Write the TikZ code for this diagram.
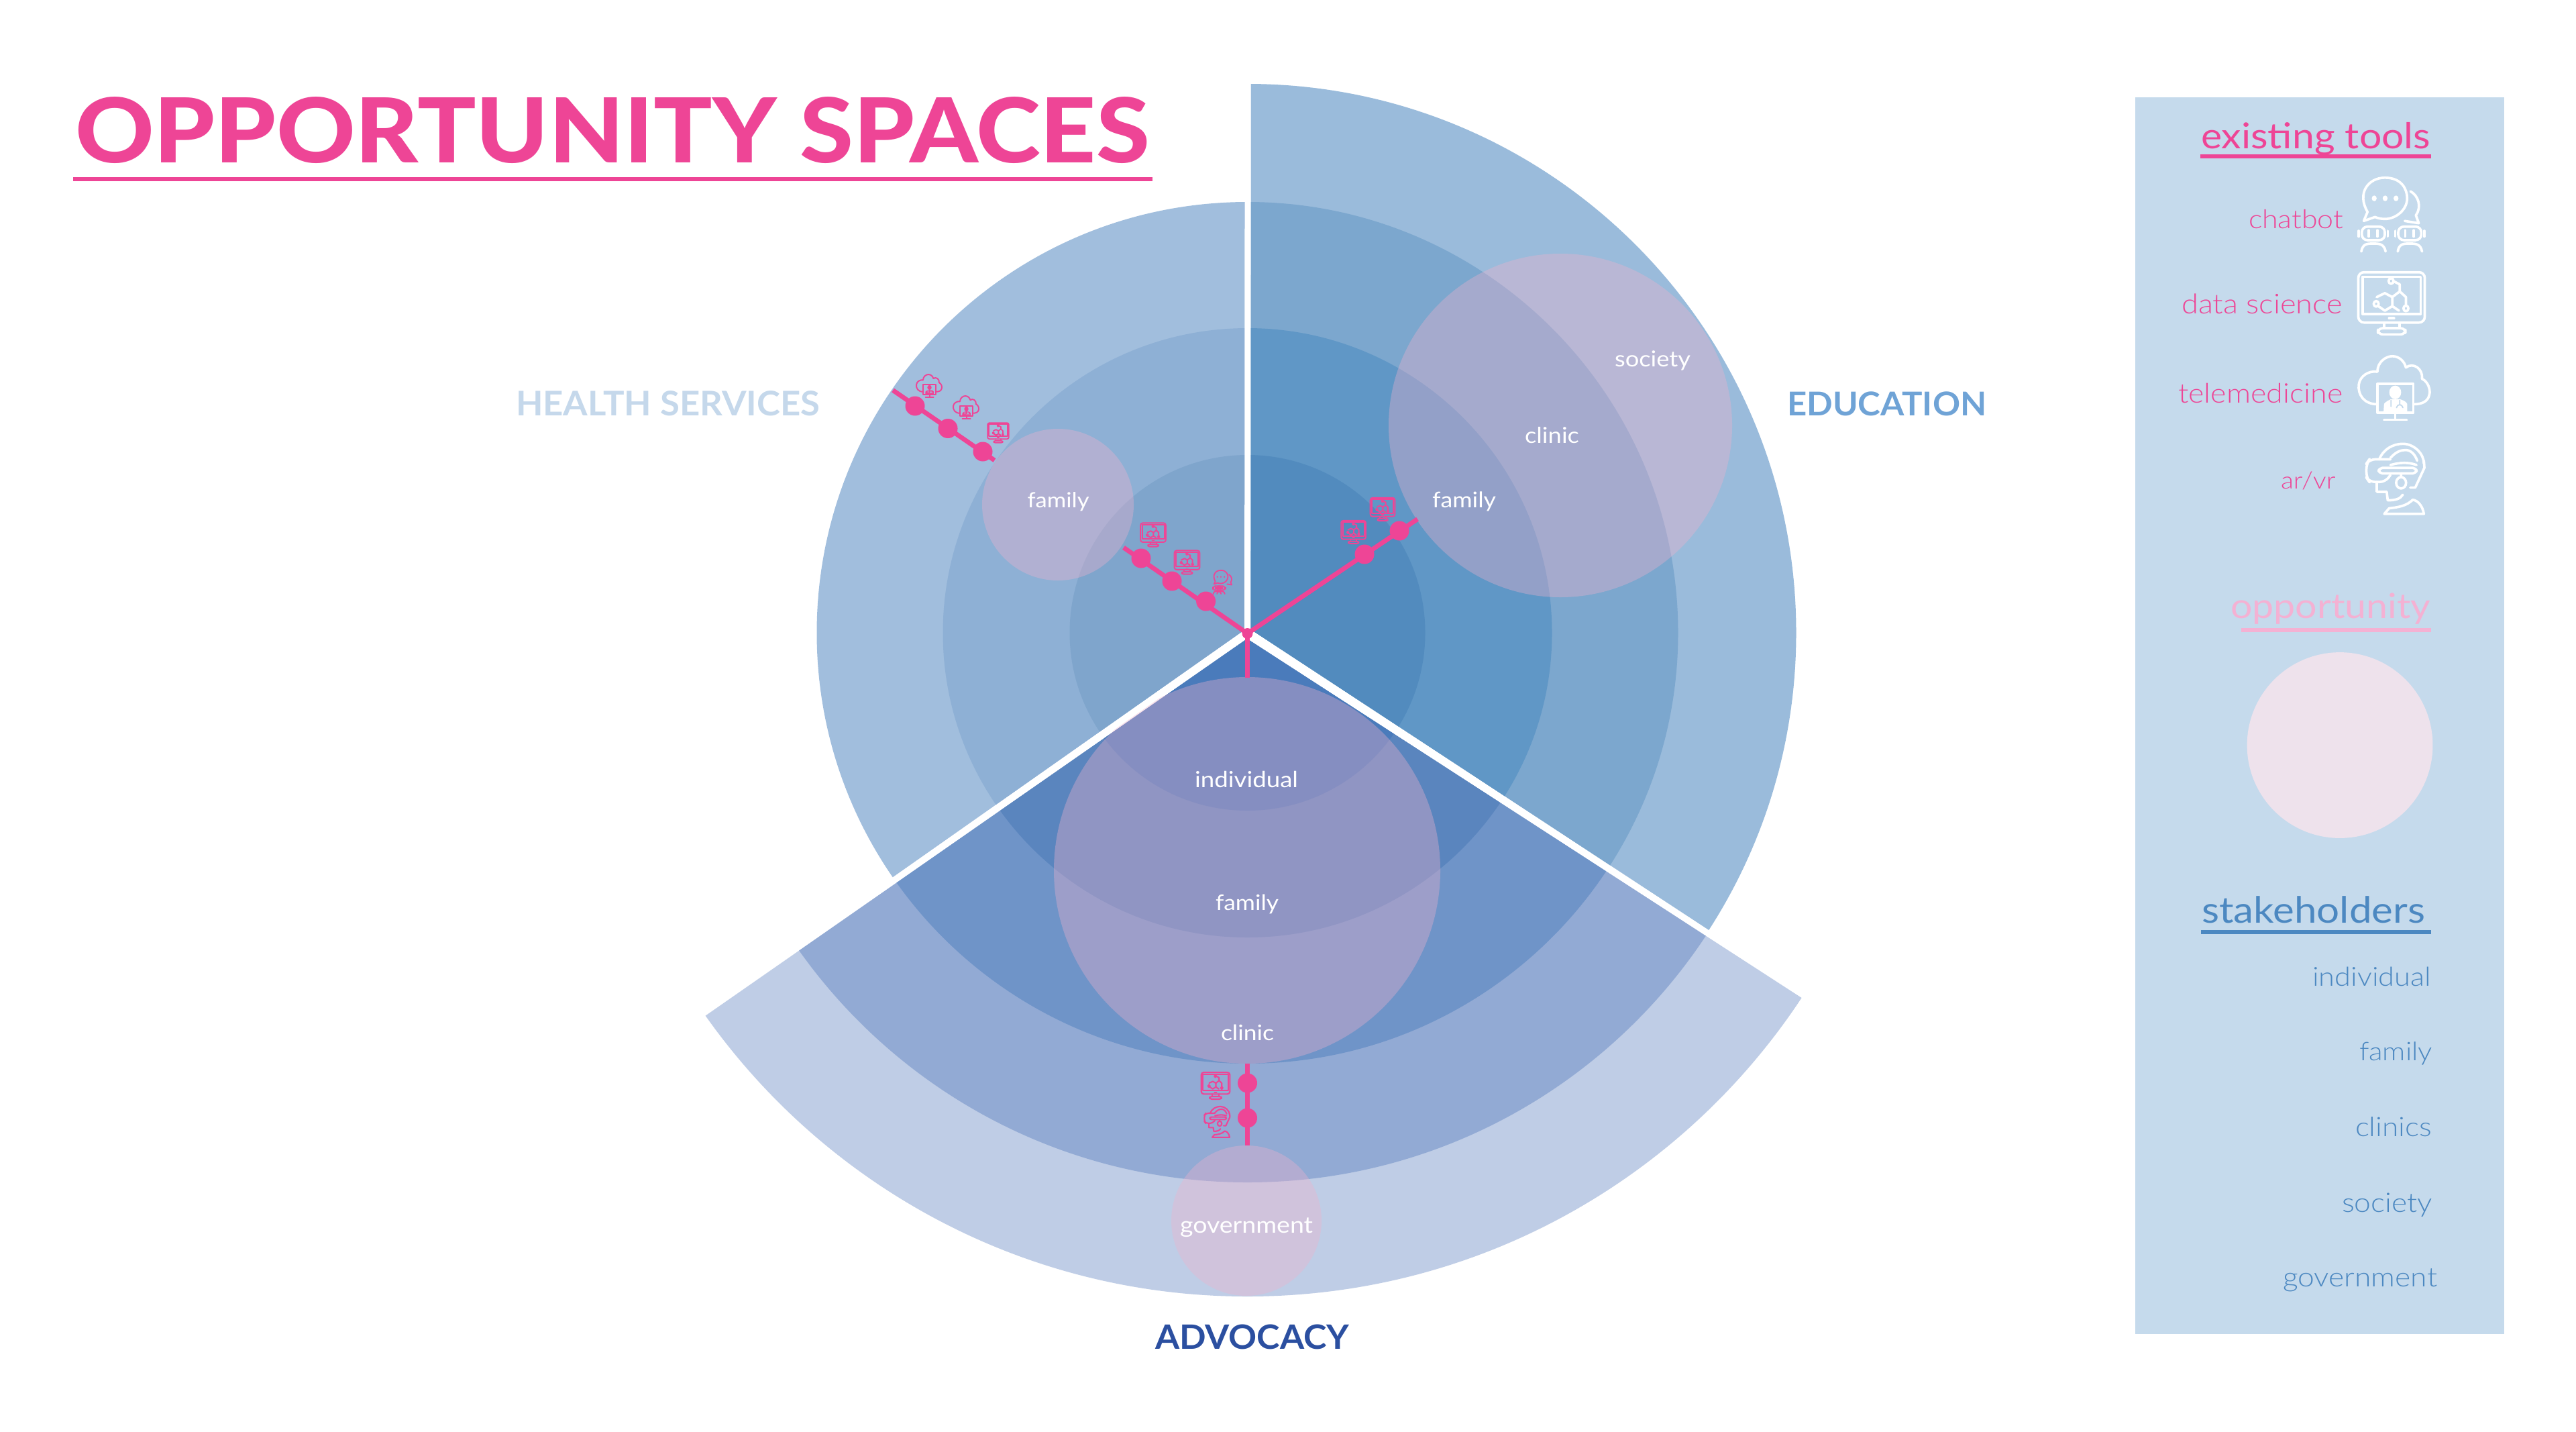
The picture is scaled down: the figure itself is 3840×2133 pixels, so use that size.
\documentclass[tikz,border=0pt]{standalone}
\usepackage{fontspec}
\usepackage{graphicx}
\setmainfont{Lato Light}
\newfontfamily\medf{Lato}
\newfontfamily\heavyf{Lato Heavy}
\newcommand{\fit}[2]{\resizebox{#1}{!}{\scalebox{1}[0.9]{#2}}}
\newcommand{\fitcaps}[2]{\resizebox{#1}{!}{\scalebox{1}[0.96]{\medf\bfseries #2}}}
\definecolor{hotpink}{HTML}{EE4596}
\definecolor{panel}{HTML}{C5DAEC}
\definecolor{hA}{HTML}{7FA5CC}\definecolor{hB}{HTML}{8EB0D5}\definecolor{hC}{HTML}{A1BEDD}
\definecolor{eA}{HTML}{528BBE}\definecolor{eB}{HTML}{6097C6}\definecolor{eC}{HTML}{7CA7CE}\definecolor{eD}{HTML}{9ABBDB}
\definecolor{aA}{HTML}{4A7BBB}\definecolor{aB}{HTML}{5A85BE}\definecolor{aC}{HTML}{6F94C8}\definecolor{aD}{HTML}{92AAD4}\definecolor{aE}{HTML}{BFCDE6}
\definecolor{opp}{RGB}{240,178,205}
\definecolor{legpink}{HTML}{F4B1D3}
\definecolor{legblue}{HTML}{4C88C1}
\definecolor{healthc}{HTML}{C5D8EB}
\definecolor{educ}{HTML}{6FA3D6}
\definecolor{advc}{HTML}{2B4FA0}
\definecolor{oppleg}{RGB}{238,226,236}
\tikzset{
  lbl/.style={inner sep=0pt,outer sep=0pt,anchor=base west},
  oppcircle/.style={fill=opp,fill opacity=0.36},
  divider/.style={draw=white,line width=2.5pt},
  spoke/.style={draw=hotpink,line width=1.95pt},
  dotnode/.style={circle,fill=hotpink,inner sep=0pt,minimum size=0.29cm},
  hubnode/.style={circle,fill=hotpink,inner sep=0pt,minimum size=0.16cm},
  rule/.style={line width=1.65pt},
  ico/.style={line join=round,line cap=round}
}
% icons: coordinates are those of the legend, arguments: x, y, scale, colour, line width, ground
\newcommand{\iconmonitor}[6]{\begin{scope}[shift={(#1,#2)},x=0.0037cm,y=-0.00421cm,scale=#3,shift={(-1042,-742)},ico,draw=#4,line width=#5]
  \draw[rounded corners=#3*2.4pt] (908,632) rectangle (1176,810);
  \draw (925,648) rectangle (1160,780);
  \draw (1032,795) -- (1052,795);
  \draw (1012,810) -- (1012,830) (1075,810) -- (1075,830);
  \draw[rounded corners=#3*2pt] (987,830) rectangle (1098,852);
  \draw (982,720) -- (1015,706) -- (1045,720) -- (1045,752) -- (1015,768) -- (985,750);
  \draw (1045,720) -- (1075,700) -- (1075,675) -- (1052,665);
  \draw (1075,700) -- (1100,720) -- (1100,750);
  \draw (1045,752) -- (1072,768);
  \draw (1040,663) circle[radius=10] (1100,760) circle[radius=10] (980,744) circle[radius=10];
\end{scope}}
\newcommand{\iconbot}[6]{\begin{scope}[shift={(#1,#2)},x=0.0037cm,y=-0.00421cm,scale=#3,shift={(-1042,-428)},ico,draw=#4,line width=#5]
  \draw (945,418) .. controls (900,350) and (950,297) .. (1015,297) .. controls (1085,297) and (1105,340) .. (1105,370) .. controls (1105,410) and (1060,443) .. (1015,443) .. controls (1000,443) and (985,440) .. (975,436) -- (930,450) -- cycle;
  \fill[#4] (972,370) circle[radius=10] (1016,370) circle[radius=10] (1060,370) circle[radius=10];
  \draw (1118,345) .. controls (1150,360) and (1165,400) .. (1140,430) -- (1152,458) -- (1095,450);
  \foreach \dx in {0,147}{
    \begin{scope}[xshift=\dx*0.0037cm*#3]
    \draw[rounded corners=#3*2.4pt] (922,470) rectangle (1015,518);
    \draw (950,483) -- (950,505) (985,483) -- (985,505);
    \draw (910,485) -- (910,505) (1027,485) -- (1027,505);
    \draw (920,558) .. controls (925,530) and (945,530) .. (968,530) .. controls (990,530) and (1012,530) .. (1018,558);
    \end{scope}}
\end{scope}}
\newcommand{\iconcloud}[6]{\begin{scope}[shift={(#1,#2)},x=0.0037cm,y=-0.00421cm,scale=#3,shift={(-1053,-1042)},ico,draw=#4,line width=#5]
  \draw (985,1100) .. controls (930,1100) and (905,1065) .. (910,1030) .. controls (915,1000) and (950,980) .. (985,985) .. controls (985,950) and (1020,930) .. (1045,930) .. controls (1075,930) and (1095,950) .. (1100,970) .. controls (1130,950) and (1170,975) .. (1165,1010) .. controls (1190,1020) and (1200,1050) .. (1195,1065) .. controls (1190,1090) and (1165,1100) .. (1132,1100);
  \draw (985,1028) rectangle (1130,1130);
  \fill[#4] (1057,1058) circle[radius=24];
  \fill[#4] (1010,1125) -- (1012,1098) .. controls (1020,1090) and (1030,1086) .. (1040,1082) -- (1075,1082) .. controls (1090,1086) and (1100,1090) .. (1105,1098) -- (1105,1125) -- cycle;
  \draw[draw=#6,line width=0.5*#5] (1040,1086) -- (1040,1108) (1075,1086) -- (1075,1100) (1062,1112) .. controls (1066,1098) and (1084,1098) .. (1088,1112);
  \draw (1057,1130) -- (1057,1152) (1012,1155) -- (1103,1155);
\end{scope}}
\newcommand{\iconvr}[6]{\begin{scope}[shift={(#1,#2)},x=0.0037cm,y=-0.00421cm,scale=#3,shift={(-1053,-1365)},ico,draw=#4,line width=#5]
  \draw (990,1295) .. controls (1005,1260) and (1045,1240) .. (1085,1240) .. controls (1130,1240) and (1170,1275) .. (1170,1310);
  \draw (1035,1290) .. controls (1055,1270) and (1075,1262) .. (1095,1262) .. controls (1120,1262) and (1135,1280) .. (1143,1300);
  \draw[rounded corners=#3*2.4pt] (1035,1295) -- (950,1295) -- (938,1310) -- (938,1360) -- (950,1375) -- (1015,1375) -- (1035,1350);
  \draw[rounded corners=#3*1.6pt] (988,1325) rectangle (1140,1345);
  \draw (1035,1315) .. controls (1075,1305) and (1110,1305) .. (1140,1315);
  \draw (1078,1345) -- (1078,1358) (1078,1378) circle[radius=20];
  \draw (1170,1300) -- (1172,1325) -- (1135,1395) -- (1115,1395);
  \draw (980,1375) -- (980,1410) -- (1020,1410) -- (1024,1440) .. controls (1055,1440) and (1075,1435) .. (1085,1420);
  \draw (1010,1488) -- (1170,1488) .. controls (1165,1460) and (1145,1440) .. (1125,1438) .. controls (1100,1460) and (1065,1465) .. (1030,1468) -- cycle;
\end{scope}}
\begin{document}
\begin{tikzpicture}[x=0.01cm,y=-0.01cm]
\useasboundingbox (0,0) rectangle (3840,2133);
\fill[white] (0,0) rectangle (3840,2133);
\coordinate (c) at (1859.5,943);
% ---------- sectors
\begin{scope}
  \clip (1856,0) -- (1856,938) -- (0,2243) -- (0,0) -- cycle;
  \fill[hC] (c) circle[radius=642];
  \fill[hB] (c) circle[radius=454];
  \fill[hA] (c) circle[radius=265];
\end{scope}
\begin{scope}
  \clip (1864.5,0) -- (1864.5,938) -- (3000,1683) -- (3000,0) -- cycle;
  \fill[eD] (c) circle[radius=818];
  \fill[eC] (c) circle[radius=642];
  \fill[eB] (c) circle[radius=454];
  \fill[eA] (c) circle[radius=265];
\end{scope}
\begin{scope}
  \clip (1859,952) -- (3509,2020) -- (3509,2400) -- (249,2400) -- (249,2072) -- cycle;
  \fill[aE] (c) circle[radius=989];
  \fill[aD] (c) circle[radius=819];
  \fill[aC] (c) circle[radius=642];
  \fill[aB] (c) circle[radius=454];
  \fill[aA] (c) circle[radius=265];
\end{scope}
% ---------- opportunity circles
\coordinate (ceduc) at (2326,634);
\coordinate (cheal) at (1577,752);
\coordinate (cadvo) at (1859,1297);
\coordinate (cgovt) at (1858,1819);
\fill[oppcircle] (ceduc) circle[radius=256];
\fill[oppcircle] (cheal) circle[radius=113];
\fill[oppcircle] (cadvo) circle[radius=288];
\fill[oppcircle] (cgovt) circle[radius=112];
% ---------- dividers
\draw[divider] (1860,120) -- (c);
\draw[divider] (c) -- (1333,1311.5);
\draw[divider] (c) -- (2546,1391);
% ---------- spokes
\node[hubnode] (hub) at (1859.5,944) {};
\coordinate (hiEnd) at (1675,816);
\coordinate (hoA) at (1331,581.5);
\coordinate (hoB) at (1482.5,686);
\coordinate (edEnd) at (2113,773.6);
\coordinate (adEnd) at (1859.5,1010);
\coordinate (loA) at (1859.5,1585);
\coordinate (loB) at (1859.5,1707);
\draw[spoke] (hub.center) -- (hiEnd);
\draw[spoke] (hoA) -- (hoB);
\draw[spoke] (hub.center) -- (edEnd);
\draw[spoke] (hub.center) -- (adEnd);
\draw[spoke] (loA) -- (loB);
\node[dotnode] (hi1) at (1797.6,896) {};
\node[dotnode] (hi2) at (1747,866) {};
\node[dotnode] (hi3) at (1701,832) {};
\node[dotnode] (ho1) at (1364,605) {};
\node[dotnode] (ho2) at (1413,638.5) {};
\node[dotnode] (ho3) at (1465,673) {};
\node[dotnode] (ed1) at (2034,826) {};
\node[dotnode] (ed2) at (2086,791) {};
\node[dotnode] (ad1) at (1859.5,1614) {};
\node[dotnode] (ad2) at (1859.5,1666) {};
% ---------- small icons on the spokes
\iconcloud{1385}{575}{0.36}{hotpink}{0.55pt}{hC}
\iconcloud{1440}{607}{0.36}{hotpink}{0.55pt}{hC}
\iconmonitor{1488}{645}{0.32}{hotpink}{0.5pt}{hC}
\iconmonitor{1719}{797}{0.38}{hotpink}{0.55pt}{hA}
\iconmonitor{1769.5}{838}{0.38}{hotpink}{0.55pt}{hA}
\iconbot{1823}{867.5}{0.32}{hotpink}{0.5pt}{hA}
\iconmonitor{2017.6}{793}{0.37}{hotpink}{0.55pt}{eA}
\iconmonitor{2061}{759}{0.37}{hotpink}{0.55pt}{eA}
\iconmonitor{1812}{1618}{0.43}{hotpink}{0.6pt}{aD}
\iconvr{1814}{1672}{0.44}{hotpink}{0.6pt}{aD}
% ---------- circle and sector labels
\node[lbl,white] (lsoc) at (2407,546) {\fit{1.13cm}{\medf society}};
\node[lbl,white] (lcli) at (2273,660) {\fit{0.81cm}{\medf clinic}};
\node[lbl,white] (lfam) at (2135,756) {\fit{0.95cm}{\medf family}};
\node[lbl,white] (lhfm) at (1531.5,756) {\fit{0.92cm}{\medf family}};
\node[lbl,white] (lind) at (1781,1173) {\fit{1.54cm}{\medf individual}};
\node[lbl,white] (lafm) at (1812,1356) {\fit{0.94cm}{\medf family}};
\node[lbl,white] (lacl) at (1820,1550) {\fit{0.79cm}{\medf clinic}};
\node[lbl,white] (lgov) at (1759,1837) {\fit{1.98cm}{\medf government}};
\node[lbl,text=healthc] (thea) at (769,619) {\fitcaps{4.53cm}{HEALTH SERVICES}};
\node[lbl,text=educ] (tedu) at (2664,619) {\fitcaps{2.97cm}{EDUCATION}};
\node[lbl,text=advc] (tadv) at (1722,2010) {\fitcaps{2.89cm}{ADVOCACY}};
% ---------- title
\node[lbl,text=hotpink] (title) at (112,242) {\resizebox{16.01cm}{!}{\scalebox{1}[0.92]{\heavyf OPPORTUNITY SPACES}}};
\coordinate (tuA) at (109,267); \coordinate (tuB) at (1718,267);
\draw[hotpink,rule] (tuA) -- (tuB);
% ---------- legend panel
\fill[panel] (3183,145) rectangle (3733,1988);
\node[lbl,text=hotpink] (lex) at (3281,221) {\fit{3.42cm}{\medf existing tools}};
\coordinate (u1a) at (3280,233); \coordinate (u1b) at (3624,233);
\draw[hotpink,rule] (u1a) -- (u1b);
\node[lbl,text=hotpink] (lcb) at (3352,340) {\fit{1.41cm}{chatbot}};
\node[lbl,text=hotpink] (lds) at (3252,467) {\fit{2.40cm}{data science}};
\node[lbl,text=hotpink] (ltm) at (3247,600) {\fit{2.45cm}{telemedicine}};
\node[lbl,text=hotpink] (lvr) at (3400,728) {\fit{0.815cm}{ar/vr}};
\iconbot{3565}{320}{1}{white}{1.05pt}{panel}
\iconmonitor{3565}{452}{1}{white}{1.05pt}{panel}
\iconcloud{3569}{578}{1}{white}{1.05pt}{panel}
\iconvr{3570}{714}{1}{white}{1.05pt}{panel}
\node[lbl,text=legpink] (lop) at (3325,921) {\fit{2.98cm}{\medf opportunity}};
\coordinate (u2a) at (3341,939); \coordinate (u2b) at (3624,939);
\draw[legpink,rule] (u2a) -- (u2b);
\fill[oppleg] (3488,1110.5) circle[radius=138.4];
\node[lbl,text=legblue] (lst) at (3282,1375) {\fit{3.33cm}{\medf stakeholders}};
\coordinate (u3a) at (3281,1389); \coordinate (u3b) at (3624,1389);
\draw[legblue,rule] (u3a) -- (u3b);
\node[lbl,text=legblue] (s1) at (3447,1469) {\fit{1.77cm}{individual}};
\node[lbl,text=legblue] (s2) at (3517,1580) {\fit{1.09cm}{family}};
\node[lbl,text=legblue] (s3) at (3511,1693) {\fit{1.14cm}{clinics}};
\node[lbl,text=legblue] (s4) at (3491,1806) {\fit{1.35cm}{society}};
\node[lbl,text=legblue] (s5) at (3403,1917.5) {\fit{2.30cm}{government}};
\end{tikzpicture}
\end{document}
